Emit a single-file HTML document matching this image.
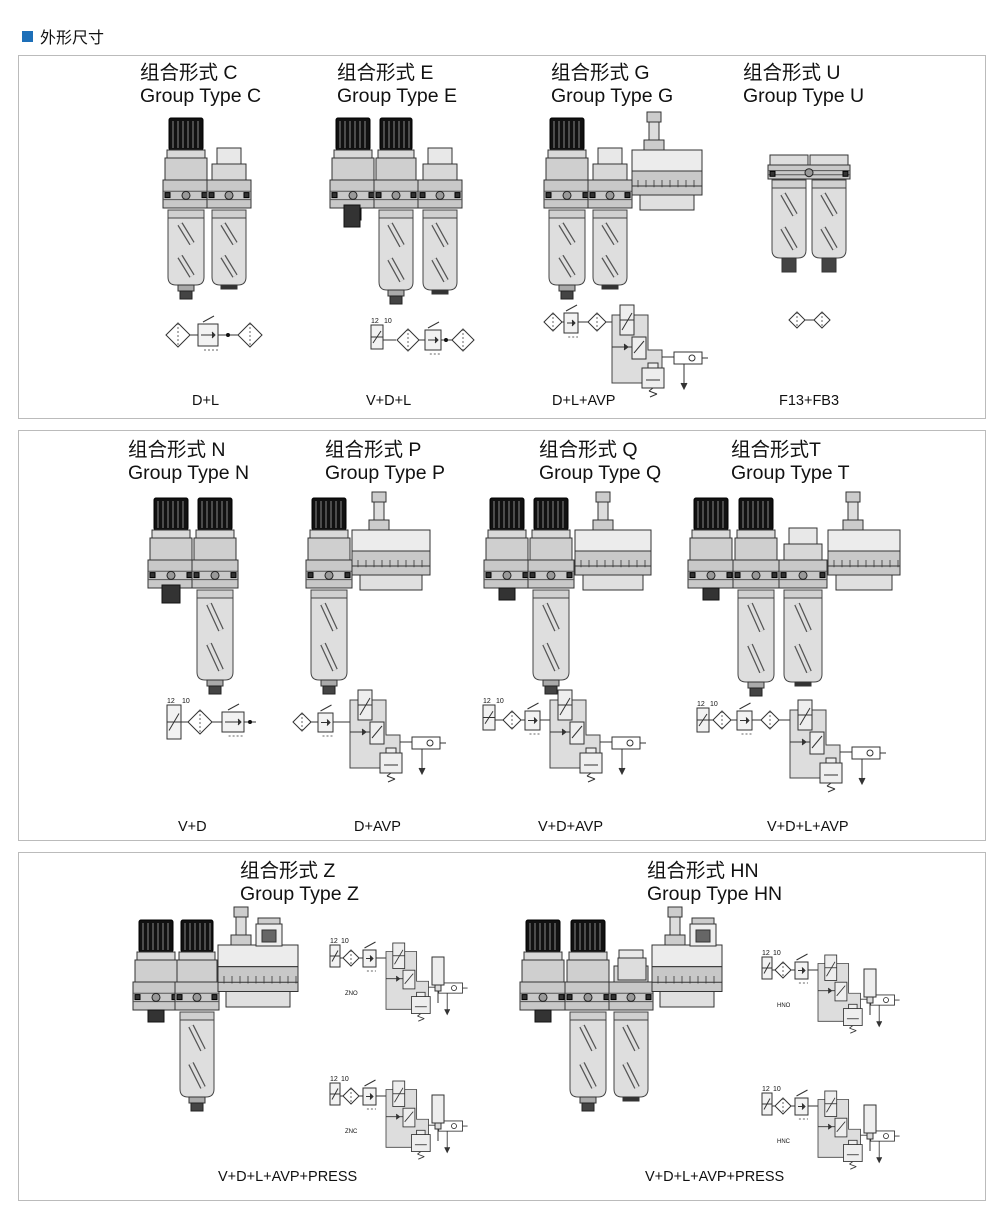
<!DOCTYPE html>
<html><head><meta charset="utf-8"><style>
html,body{margin:0;padding:0;background:#fff;width:1000px;height:1218px;overflow:hidden}
svg{display:block}
text{font-family:"Liberation Sans","Noto Sans CJK SC",sans-serif;fill:#111}
</style></head><body>
<svg id="s" width="1000" height="1218" viewBox="0 0 1000 1218" xmlns="http://www.w3.org/2000/svg">
<rect x="22" y="31" width="11" height="11" fill="#1d6fb8"/>
<text x="40" y="43" font-size="16">外形尺寸</text>
<rect x="18.5" y="55.5" width="967" height="363" fill="none" stroke="#bbb"/>
<rect x="18.5" y="430.5" width="967" height="410" fill="none" stroke="#bbb"/>
<rect x="18.5" y="852.5" width="967" height="348" fill="none" stroke="#bbb"/>
<g font-size="19.5">
<text x="140" y="79">组合形式 C</text><text x="140" y="102">Group Type C</text>
<text x="337" y="79">组合形式 E</text><text x="337" y="102">Group Type E</text>
<text x="551" y="79">组合形式 G</text><text x="551" y="102">Group Type G</text>
<text x="743" y="79">组合形式 U</text><text x="743" y="102">Group Type U</text>
<text x="128" y="456">组合形式 N</text><text x="128" y="479">Group Type N</text>
<text x="325" y="456">组合形式 P</text><text x="325" y="479">Group Type P</text>
<text x="539" y="456">组合形式 Q</text><text x="539" y="479">Group Type Q</text>
<text x="731" y="456">组合形式T</text><text x="731" y="479">Group Type T</text>
<text x="240" y="877">组合形式 Z</text><text x="240" y="900">Group Type Z</text>
<text x="647" y="877">组合形式 HN</text><text x="647" y="900">Group Type HN</text>
</g>
<g font-size="14.5">
<text x="192" y="405">D+L</text><text x="366" y="405">V+D+L</text>
<text x="552" y="405">D+L+AVP</text><text x="779" y="405">F13+FB3</text>
<text x="178" y="831">V+D</text><text x="354" y="831">D+AVP</text>
<text x="538" y="831">V+D+AVP</text><text x="767" y="831">V+D+L+AVP</text>
<text x="218" y="1181">V+D+L+AVP+PRESS</text><text x="645" y="1181">V+D+L+AVP+PRESS</text>
</g>
<g id="g"></g>
</svg>
<script>
var o='';
function R(x,y,w,h,f,s,extra){o+='<rect x="'+x+'" y="'+y+'" width="'+w+'" height="'+h+'" fill="'+(f||'none')+'" stroke="'+(s||'#333')+'" '+(extra||'')+'/>';}
function L(x1,y1,x2,y2,s,w,d){o+='<line x1="'+x1+'" y1="'+y1+'" x2="'+x2+'" y2="'+y2+'" stroke="'+(s||'#333')+'" stroke-width="'+(w||1)+'" '+(d?'stroke-dasharray="'+d+'"':'')+'/>';}
function P(d,f,s,w){o+='<path d="'+d+'" fill="'+(f||'none')+'" stroke="'+(s||'#333')+'" stroke-width="'+(w||1)+'"/>';}
function knob(x,y,w,h){R(x,y,w,h,'#111','#000','rx="2"');for(var i=x+4;i<x+w-2;i+=5)L(i,y+3,i,y+h-2,'#888',1);}
function band(x,y,w,h){R(x,y,w,h,'#c8c8c8','#333');L(x,y+h*0.4,x+w,y+h*0.4,'#555');L(x,y+h*0.7,x+w,y+h*0.7,'#555');
 o+='<circle cx="'+(x+w/2)+'" cy="'+(y+h*0.55)+'" r="4" fill="#999" stroke="#222"/>';R(x+2,y+h*0.45,5,5,'#333','#000');R(x+w-7,y+h*0.45,5,5,'#333','#000');}
function bowl(x,y,w,h){P('M'+x+' '+y+' L'+x+' '+(y+h-8)+' Q'+x+' '+(y+h)+' '+(x+8)+' '+(y+h)+' L'+(x+w-8)+' '+(y+h)+' Q'+(x+w)+' '+(y+h)+' '+(x+w)+' '+(y+h-8)+' L'+(x+w)+' '+y+' Z','#dedede','#444');
 R(x,y,w,8,'#d0d0d0','#444');
 var cx=x+w/2;for(var k=0;k<2;k++){var yy=y+14+k*(h-10)/2, hh=(h-30)/2.3;P('M'+(cx-6)+' '+yy+' L'+(cx+6)+' '+(yy+hh)+'','none','#555',6);P('M'+(cx-6)+' '+yy+' L'+(cx+6)+' '+(yy+hh),'none','#dedede',3.5);}}
function drain(x,y){R(x-8,y,16,6,'#aaa','#333');R(x-6,y+6,12,8,'#444','#222');}
function reg(x,y,w,bw){w=w||42;knob(x+4,y,w-8,32);R(x+2,y+32,w-4,8,'#d8d8d8');R(x,y+40,w,22,'#cfcfcf');band(x-2,y+62,w+4,28);if(bw!==0){bowl(x+3,y+92,w-6,bw||75);drain(x+w/2,y+92+(bw||75));}}
function valve(x,y,w){w=w||42;knob(x+4,y,w-8,32);R(x+2,y+32,w-4,8,'#d8d8d8');R(x,y+40,w,22,'#cfcfcf');band(x-2,y+62,w+4,28);R(x+w/2-8,y+90,16,12,'#333','#111');}
function lub(x,y,w,bw){w=w||40;R(x+8,y+30,w-16,16,'#e8e8e8');R(x+3,y+46,w-6,16,'#d8d8d8');band(x-2,y+62,w+4,28);bowl(x+3,y+92,w-6,bw||75);R(x+w/2-8,y+92+(bw||75),16,4,'#333');}
function avp(x,y,w,h,sx){R(sx,y-38,14,10,'#ccc');R(sx+2,y-28,10,18,'#ddd');R(sx-3,y-10,20,10,'#ccc');
 R(x,y,w,h*0.35,'#ececec');R(x,y+h*0.35,w,h*0.4,'#c8c8c8');for(var i=x+6;i<x+w;i+=8)L(i,y+h*0.5,i,y+h*0.62,'#555');L(x,y+h*0.6,x+w,y+h*0.6);
 R(x+8,y+h*0.75,w-16,h*0.25,'#e0e0e0');}
reg(165,118);lub(209,118);
valve(332,118);R(344,205,16,22,'#333','#111');reg(376,118,40,80);lub(420,118,40,80);
reg(546,118);lub(590,118);avp(632,150,70,60,647);
R(770,155,38,14,'#ddd');R(810,155,38,14,'#ddd');band(768,165,82,14);bowl(772,180,34,78);bowl(812,180,34,78);R(782,258,14,14,'#444');R(822,258,14,14,'#444');
valve(150,498);R(162,585,18,18,'#333','#111');reg(194,498,42,90);
reg(308,498,42,90);avp(352,530,78,60,372);
valve(486,498);reg(530,498,42,90);avp(575,530,76,60,596);
valve(690,498);reg(735,498,42,92);lub(781,498,44,92);avp(828,530,72,60,846);
valve(135,920);reg(177,920,40,85);avp(218,945,80,62,234);
R(258,918,22,6,'#ccc');R(256,924,26,22,'#eee');R(262,930,14,12,'#666');
valve(522,920);reg(567,920,42,85);lub(611,920,40,85);avp(652,945,70,62,668);
R(692,918,22,6,'#ccc');R(690,924,26,22,'#eee');R(696,930,14,12,'#666');R(618,958,28,22,'#ddd');
function dia(cx,cy,r){P('M'+(cx-r)+' '+cy+' L'+cx+' '+(cy-r)+' L'+(cx+r)+' '+cy+' L'+cx+' '+(cy+r)+' Z','#fff','#333');L(cx,cy-r,cx,cy+r,'#666',1,'2,2');}
function rbox(x,y,w,h){R(x,y,w,h,'#f2f2f2');L(x+3,y+h/2,x+w-3,y+h/2,'#333');P('M'+(x+w-6)+' '+(y+h/2-3)+' L'+(x+w-3)+' '+(y+h/2)+' L'+(x+w-6)+' '+(y+h/2+3),'#333');P('M'+(x+w/2-5)+' '+(y-2)+' L'+(x+w/2+6)+' '+(y-8),'none','#333');L(x+w*0.3,y+h+4,x+w,y+h+4,'#666',1,'2,2');}
function vsym(x,y,w,h){R(x,y,w,h/2,'#f2f2f2');R(x,y+h/2,w,h/2,'#f2f2f2');L(x+2,y+h*0.75,x+w-2,y+h*0.25);o+='<text x="'+x+'" y="'+(y-2)+'" font-size="7">12</text><text x="'+(x+w+1)+'" y="'+(y-2)+'" font-size="7">10</text>';}
function dot(x,y){o+='<circle cx="'+x+'" cy="'+y+'" r="2" fill="#111"/>';}
function asym(x,y,s){s=s||1;o+='<g transform="translate('+x+','+y+') scale('+s+')">';
 P('M0 10 L36 10 L36 45 L50 45 L50 78 L0 78 Z','#ddd','#444');
 R(8,0,14,30,'#eee');L(8,15,22,15);L(10,25,20,8);R(20,32,14,22,'#eee');L(22,48,32,36);
 P('M0 42 L20 42','none','#333');P('M12 39 L16 42 L12 45','#333');
 R(30,63,22,20,'#eee');R(36,58,10,5,'#eee');L(34,75,48,75);L(41,83,37,86);L(37,86,45,89);L(45,89,38,92);
 L(50,52,82,52);R(62,47,28,12,'#fff');o+='<circle cx="80" cy="53" r="3" fill="#fff" stroke="#333"/>';L(72,59,72,80);P('M69 78 L72 84 L75 78','#333');L(90,53,96,53);
 o+='</g>';}
dia(178,335,12);L(190,335,198,335);rbox(198,324,20,22);L(218,335,240,335);dot(228,335);dia(250,335,12);
vsym(371,325,12,24);L(383,340,396,340);dia(408,340,11);L(419,340,425,340);rbox(425,330,16,20);L(441,340,452,340);dot(446,340);dia(463,340,11);
dia(553,322,9);L(562,322,564,322);rbox(564,313,14,20);L(578,322,588,322);dia(597,322,9);L(606,322,612,322);asym(612,305,1);
dia(797,320,8);dia(822,320,8);L(805,320,814,320);
vsym(167,705,14,34);L(181,722,188,722);dia(200,722,12);L(212,722,222,722);rbox(222,712,22,20);L(244,722,256,722);dot(250,722);
dia(302,722,9);L(311,722,318,722);rbox(318,713,15,19);L(333,722,350,722);asym(350,690,1);
vsym(483,705,12,25);L(495,720,503,720);dia(512,720,9);L(521,720,525,720);rbox(525,711,15,19);L(540,720,550,720);asym(550,690,1);
vsym(697,708,12,24);L(709,720,713,720);dia(722,720,9);L(731,720,737,720);rbox(737,711,15,19);L(752,720,761,720);dia(770,720,9);L(779,720,790,720);asym(790,700,1);
function zsym(x,y,lab){vsym(x,y,10,22);L(x+10,y+13,x+13,y+13);dia(x+21,y+13,8);L(x+29,y+13,x+33,y+13);rbox(x+33,y+5,13,17);L(x+46,y+13,x+56,y+13);asym(x+56,y-2,0.85);
 R(x+102,y+12,12,28,'#eee');R(x+105,y+40,6,6,'#ddd');L(x+108,y+46,x+108,y+58);o+='<text x="'+(x+15)+'" y="'+(y+50)+'" font-size="6">'+lab+'</text>';}
zsym(330,945,'ZNO');zsym(330,1083,'ZNC');
zsym(762,957,'HNO');zsym(762,1093,'HNC');
document.getElementById('g').innerHTML=o;
</script>
</body></html>
